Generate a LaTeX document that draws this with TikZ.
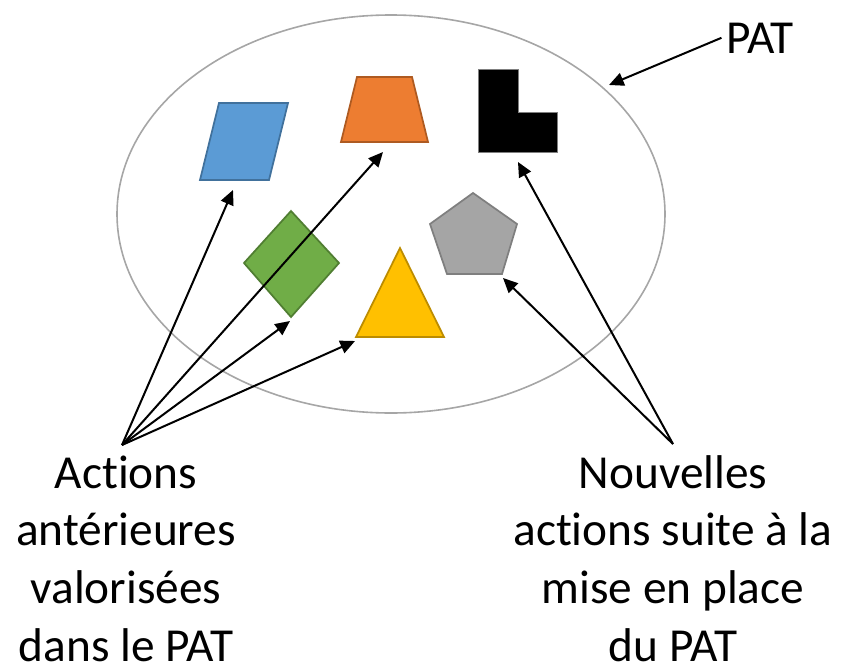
\documentclass[tikz,border=0pt]{standalone}
\usepackage{fontspec}
\setmainfont{Carlito}[Ligatures=NoCommon]
\usetikzlibrary{arrows.meta}

\definecolor{pblue}{HTML}{5B9BD5}
\definecolor{pbluedk}{HTML}{41719C}
\definecolor{porange}{HTML}{ED7D31}
\definecolor{porangedk}{HTML}{AE5A21}
\definecolor{pgreen}{HTML}{70AD47}
\definecolor{pgreendk}{HTML}{507E32}
\definecolor{pyellow}{HTML}{FFC000}
\definecolor{pyellowdk}{HTML}{BC8C00}
\definecolor{pgray}{HTML}{A5A5A5}
\definecolor{pgraydk}{HTML}{7F7F7F}
\definecolor{pring}{HTML}{A6A6A6}

\begin{document}
\begin{tikzpicture}[x=0.75pt, y=-0.75pt, font=\fontsize{35.5}{43.2}\selectfont,
  arr/.style={-{Triangle[length=11pt,width=10pt]}, line width=1.5pt},
  shp/.style={line width=1.3pt}]
  \useasboundingbox (0,0) rectangle (842,671);

  \draw[pring, line width=1.2pt] (391,214) ellipse [x radius=274, y radius=199];

  \draw[shp, draw=pbluedk, fill=pblue] (219,103) -- (288,103) -- (269,180) -- (200,180) -- cycle;
  \draw[shp, draw=porangedk, fill=porange] (357,77) -- (412,77) -- (428,142) -- (341,142) -- cycle;
  \draw[line width=0.6pt, draw=pgraydk, fill=black] (478,69) -- (518,69) -- (518,112) -- (557,112) -- (557,152) -- (478,152) -- cycle;
  \draw[shp, draw=pgreendk, fill=pgreen] (291,211) -- (339,263) -- (291,317) -- (244,263) -- cycle;
  \draw[shp, draw=pyellowdk, fill=pyellow] (400,248) -- (444,337) -- (356,337) -- cycle;
  \draw[shp, draw=pgraydk, fill=pgray] (473,193) -- (517,224) -- (502,274) -- (447,274) -- (430,224) -- cycle;

  \node[anchor=base] (pat) at (760,53) {PAT};
  \node[anchor=base, align=center, inner sep=1pt] (anciennes) at (126,661) {Actions\\antérieures\\valorisées\\dans le PAT};
  \node[anchor=base, align=center, inner sep=1pt] (nouvelles) at (673,661) {Nouvelles\\actions suite à la\\mise en place\\du PAT};

  \coordinate (leftfoot) at (122,445);
  \coordinate (rightfoot) at (673,444);
  \coordinate (bluetip) at (233,190);
  \coordinate (orangetip) at (383,152);
  \coordinate (greentip) at (290,321);
  \coordinate (yellowtip) at (355,341);
  \coordinate (graytip) at (503,278);
  \coordinate (blacktip) at (518,162);
  \coordinate (ringtip) at (609,85);

  \draw[arr] (leftfoot) -- (bluetip);
  \draw[arr] (leftfoot) -- (orangetip);
  \draw[arr] (leftfoot) -- (greentip);
  \draw[arr] (leftfoot) -- (yellowtip);
  \draw[arr] (rightfoot) -- (graytip);
  \draw[arr] (rightfoot) -- (blacktip);
  \draw[arr] (pat.west) -- (ringtip);
\end{tikzpicture}
\end{document}
